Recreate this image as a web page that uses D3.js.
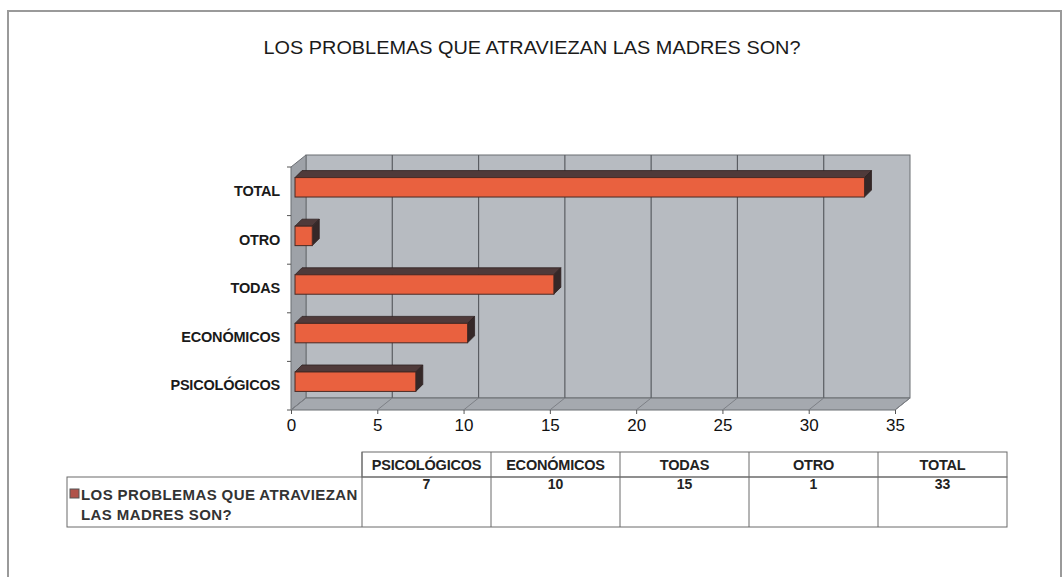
<!DOCTYPE html>
<html><head><meta charset="utf-8">
<script src="https://cdn.jsdelivr.net/npm/d3@7"></script>
<style>body{margin:0;background:#fff}svg{display:block}text{font-family:"Liberation Sans",Arial,sans-serif}</style>
</head><body>
<script>
const title = "LOS PROBLEMAS QUE ATRAVIEZAN LAS MADRES SON?";
const seriesName = "LOS PROBLEMAS QUE ATRAVIEZAN LAS MADRES SON?";
const categories = ["PSICOLÓGICOS","ECONÓMICOS","TODAS","OTRO","TOTAL"];
const values = [7,10,15,1,33];
const xTicks = [0,5,10,15,20,25,30,35];

const W=1063,H=577;
const svg=d3.select("body").append("svg").attr("width",W).attr("height",H);

// outer frame
svg.append("rect").attr("x",8).attr("y",11).attr("width",1053).attr("height",600)
  .attr("fill","#fff").attr("stroke","#9a9a9a").attr("stroke-width",2);

svg.append("text").attr("x",532).attr("y",54).attr("text-anchor","middle")
  .attr("font-size",18).attr("fill","#1a1a1a")
  .attr("textLength",537).attr("lengthAdjust","spacingAndGlyphs").text(title);

const x=d3.scaleLinear().domain([0,35]).range([291,895]);
const y=d3.scaleBand().domain(categories).range([410,167]).paddingInner(0.6).paddingOuter(0.3);
const yb=d3.scaleBand().domain(categories).range([410,167]);
const dx=15, dy=-12;
const x0=x(0), x1=x(35), yTop=167, yBot=410;

// back wall
svg.append("rect").attr("x",x0+dx).attr("y",yTop+dy).attr("width",x1-x0).attr("height",yBot-yTop)
  .attr("fill","#b7bbc1").attr("stroke","#6b6e73").attr("stroke-width",1);
// left wall
svg.append("path").attr("d",`M${x0},${yTop}L${x0+dx},${yTop+dy}L${x0+dx},${yBot+dy}L${x0},${yBot}Z`)
  .attr("fill","#9ea2a8").attr("stroke","#6b6e73");
// floor
svg.append("path").attr("d",`M${x0},${yBot}L${x0+dx},${yBot+dy}L${x1+dx},${yBot+dy}L${x1},${yBot}Z`)
  .attr("fill","#a5a9af").attr("stroke","#6b6e73");
// gridlines on back wall and floor
xTicks.slice(1,-1).forEach(t=>{
  svg.append("line").attr("x1",x(t)+dx).attr("x2",x(t)+dx).attr("y1",yTop+dy).attr("y2",yBot+dy)
    .attr("stroke","#5a5d62").attr("stroke-width",1.2);
});
xTicks.forEach(t=>{
  svg.append("line").attr("x1",x(t)).attr("y1",yBot).attr("x2",x(t)+dx).attr("y2",yBot+dy)
    .attr("stroke","#7d8086").attr("stroke-width",1);
});

// bars (3D)
const bx=4, by=-4, bdx=7, bdy=-7;
const g=svg.append("g");
categories.forEach((c,i)=>{
  const v=values[i];
  const fx0=x(0)+bx, fx1=x(v)+bx, fy=y(c)+by, fh=y.bandwidth();
  g.append("path").attr("d",`M${fx0},${fy}L${fx0+bdx},${fy+bdy}L${fx1+bdx},${fy+bdy}L${fx1},${fy}Z`)
    .attr("fill","#4f3a3a").attr("stroke","#2e2222").attr("stroke-width",0.8);
  g.append("path").attr("d",`M${fx1},${fy}L${fx1+bdx},${fy+bdy}L${fx1+bdx},${fy+fh+bdy}L${fx1},${fy+fh}Z`)
    .attr("fill","#352828").attr("stroke","#2e2222").attr("stroke-width",0.8);
  g.append("rect").attr("x",fx0).attr("y",fy).attr("width",fx1-fx0).attr("height",fh)
    .attr("fill","#e9613f").attr("stroke","#4a2a24").attr("stroke-width",1);
});

// x axis
const xa=svg.append("g").attr("transform",`translate(0,${yBot})`)
  .call(d3.axisBottom(x).tickValues(xTicks).tickSize(4).tickPadding(5));
xa.select(".domain").remove();
xa.selectAll("line").attr("stroke","#555");
xa.selectAll("text").attr("font-size",17).attr("fill","#111").attr("font-family","Liberation Sans, Arial, sans-serif");

// y axis
const ya=svg.append("g").attr("transform",`translate(${x0},0)`)
  .call(d3.axisLeft(yb).tickSize(0).tickPadding(11));
ya.select(".domain").remove();
ya.selectAll("text").attr("font-size",14.5).attr("font-weight","bold").attr("fill","#1a1a1a")
  .attr("letter-spacing",-0.2).attr("font-family","Liberation Sans, Arial, sans-serif");
categories.concat(["_end"]).forEach((c,i)=>{
  const yy = i<categories.length ? yb(c)+yb.bandwidth() : yTop;
  svg.append("line").attr("x1",x0-4).attr("x2",x0).attr("y1",yy).attr("y2",yy).attr("stroke","#555");
});

// data table
const cx=d3.scaleBand().domain(categories).range([362,1007]);
const hT=452,hB=477,dB=527,lx=67;
const tg=svg.append("g").attr("stroke","#6a6a6a").attr("stroke-width",1);
tg.append("rect").attr("x",362).attr("y",hT).attr("width",1007-362).attr("height",hB-hT).attr("fill","none");
tg.append("rect").attr("x",lx).attr("y",hB).attr("width",1007-lx).attr("height",dB-hB).attr("fill","none");
categories.forEach((c,i)=>{
  if(i>0) tg.append("line").attr("x1",cx(c)).attr("x2",cx(c)).attr("y1",hT).attr("y2",dB);
});
tg.append("line").attr("x1",362).attr("x2",362).attr("y1",hT).attr("y2",dB);
categories.forEach((c,i)=>{
  svg.append("text").attr("x",cx(c)+cx.bandwidth()/2).attr("y",470).attr("text-anchor","middle")
    .attr("font-size",14.5).attr("font-weight","bold").attr("letter-spacing",-0.2).attr("fill","#222").text(c);
  svg.append("text").attr("x",cx(c)+cx.bandwidth()/2).attr("y",489).attr("text-anchor","middle")
    .attr("font-size",14).attr("font-weight","bold").attr("fill","#222").text(values[i]);
});
svg.append("rect").attr("x",70).attr("y",489).attr("width",9).attr("height",9)
  .attr("fill","#b0524a").attr("stroke","#555").attr("stroke-width",1);
const words=seriesName.split(" ");
const line1=words.slice(0,4).join(" "), line2=words.slice(4).join(" ");
svg.append("text").attr("x",81).attr("y",500).attr("font-size",15).attr("font-weight","bold")
  .attr("letter-spacing",0.4).attr("fill","#333").text(line1);
svg.append("text").attr("x",81).attr("y",520).attr("font-size",15).attr("font-weight","bold")
  .attr("letter-spacing",0.4).attr("fill","#333").text(line2);
</script>
</body></html>
